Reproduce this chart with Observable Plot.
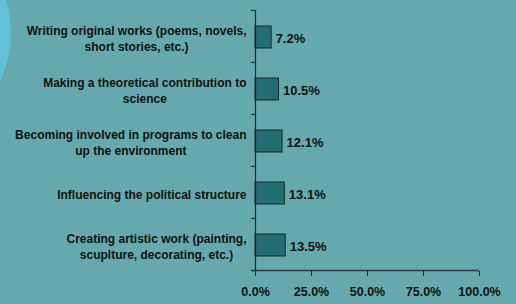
<!DOCTYPE html>
<html>
<head>
<meta charset="utf-8">
<script src="https://cdn.jsdelivr.net/npm/d3@7"></script>
<script src="https://cdn.jsdelivr.net/npm/@observablehq/plot@0.6"></script>
<style>
  html, body { margin: 0; padding: 0; background: #65a9ae; width: 516px; height: 304px; overflow: hidden; }
  #wrap { position: relative; width: 516px; height: 304px; }
  #circle { position: absolute; left: -211px; top: -78px; width: 222px; height: 222px; border-radius: 50%; background: #62c1d4; }
  #chart { position: absolute; left: 0; top: 0; }
</style>
</head>
<body>
<div id="wrap"><div id="circle"></div><div id="chart"></div></div>
<script>
const categories = [
  "Writing original works (poems, novels,\nshort stories, etc.)",
  "Making a theoretical contribution to\nscience",
  "Becoming involved in programs to clean\nup the environment",
  "Influencing the political structure",
  "Creating artistic work (painting,\nscuplture, decorating, etc.)"
];
const values = [7.2, 10.5, 12.1, 13.1, 13.5];
const xTicks = [0, 25, 50, 75, 100];

const data = categories.map((c, i) => ({category: c, value: values[i]}));

const FONT = "'Liberation Sans', Arial, sans-serif";
const FS = 12;
const ctx = document.createElement("canvas").getContext("2d");
ctx.font = `bold ${FS}px ${FONT}`;
const labelWidth = s => Math.max(...s.split("\n").map(l => ctx.measureText(l).width));

const labelMarks = categories.map(c => Plot.text([c], {
  y: d => d, text: d => d, frameAnchor: "left", textAnchor: "middle",
  dx: -(9 + labelWidth(c) / 2), dy: 1, lineHeight: 16 / FS, fill: "#111",
  fontWeight: "bold", fontSize: FS
}));

const last = categories[categories.length - 1];
const step = (271 - 10) / categories.length;

const chart = Plot.plot({
  width: 516, height: 304,
  marginLeft: 255, marginRight: 37, marginTop: 10, marginBottom: 33,
  style: {background: "transparent", fontFamily: FONT, color: "#111"},
  x: {domain: [0, 100], ticks: xTicks, label: null, axis: null},
  y: {domain: categories, paddingInner: 0.57, paddingOuter: 0.285, align: 0.5, label: null, axis: null},
  marks: [
    Plot.barX(data, {y: "category", x: "value", dy: 1, fill: "#236e72", stroke: "#162b2c", strokeWidth: 1}),
    Plot.text(data, {y: "category", x: "value", text: d => d.value.toFixed(1) + "%", dx: 4, dy: 2,
      textAnchor: "start", fontWeight: "bold", fontSize: 13, fill: "#111"}),
    // category boundary ticks on the y axis
    Plot.ruleY(categories, {y: d => d, x1: 0, x2: 0, dy: -step / 2, insetLeft: -4, stroke: "#222"}),
    Plot.ruleY([last], {y: d => d, x1: 0, x2: 0, dy: step / 2, insetLeft: -4, stroke: "#222"}),
    // axis lines
    Plot.ruleX([0], {stroke: "#222", strokeWidth: 1.2}),
    Plot.ruleY([last], {y: d => d, x1: 0, x2: 100, dy: step / 2, insetLeft: -4, stroke: "#2a3a3a", strokeWidth: 1.5}),
    Plot.axisX({ticks: xTicks, tickSize: 5, tickPadding: 11, tickFormat: d => d.toFixed(1) + "%",
      fontWeight: "bold", fontSize: 12.5, stroke: "#222", fill: "#111", label: null}),
    ...labelMarks
  ]
});
document.getElementById("chart").appendChild(chart);
</script>
</body>
</html>
